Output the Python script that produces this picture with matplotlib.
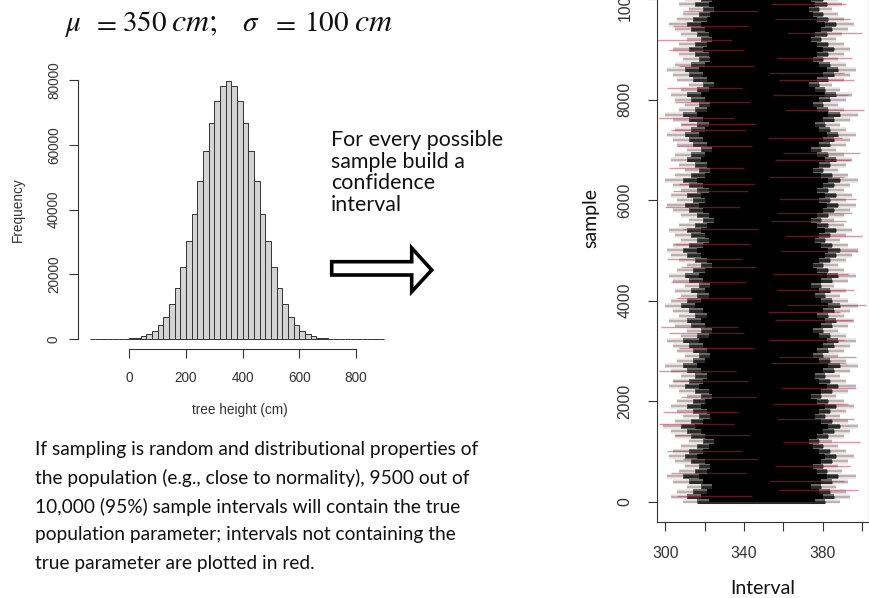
import numpy as np
import matplotlib
matplotlib.use('Agg')
from matplotlib import pyplot as plt
from matplotlib.patches import Polygon

plt.rcParams['mathtext.fontset'] = 'stix'

W, H = 870, 598

def fx(px):
    return px / W

def fy(py):
    return 1 - py / H

# --- histogram of tree heights (bin width 20 cm) ---
bin_left = list(range(-140, 900, 20))
counts = [1, 2, 5, 12, 30, 70, 140,
          250, 480, 880, 1560, 2700, 4400, 7000, 10900, 15900, 22200,
          30200, 38800, 48900, 58100, 66600, 73600, 78100, 79700, 78100, 73600,
          66600, 58100, 48900, 38800, 30200, 22200, 15900, 10900, 7000, 4400,
          2700, 1560, 880, 480, 250, 140, 70, 30, 12, 5, 2, 1, 0, 0, 1]
hist_xticks = [0, 200, 400, 600, 800]
hist_yticks = [0, 20000, 40000, 60000, 80000]

# --- confidence intervals panel (edges of the band read every 100 samples) ---
samples = list(range(0, 10001, 100))
core_lo = [322, 318, 321, 324, 319, 317, 321, 323, 320, 316,
           319, 322, 325, 320, 318, 315, 319, 323, 321, 318,
           320, 324, 322, 317, 319, 321, 318, 316, 320, 323,
           321, 319, 317, 322, 324, 320, 318, 321, 319, 315,
           318, 322, 320, 323, 319, 317, 320, 324, 321, 318,
           316, 319, 322, 320, 318, 321, 325, 322, 319, 317,
           320, 318, 322, 319, 316, 320, 323, 321, 318, 320,
           324, 321, 319, 317, 320, 322, 319, 316, 321, 323,
           320, 318, 322, 325, 321, 319, 317, 320, 323, 322,
           319, 321, 324, 322, 320, 318, 321, 323, 325, 322, 324]
core_hi = [376, 380, 378, 374, 379, 382, 377, 375, 379, 381,
           378, 375, 373, 377, 380, 383, 379, 376, 378, 381,
           377, 374, 379, 382, 378, 376, 380, 383, 378, 375,
           377, 380, 382, 378, 375, 379, 381, 377, 380, 383,
           379, 376, 378, 374, 379, 382, 377, 375, 378, 381,
           383, 379, 376, 378, 381, 377, 374, 377, 380, 382,
           378, 381, 377, 380, 383, 379, 375, 378, 381, 377,
           374, 378, 380, 382, 378, 376, 380, 383, 377, 375,
           378, 381, 376, 373, 377, 380, 382, 378, 375, 377,
           380, 377, 374, 376, 379, 381, 377, 375, 373, 376, 374]
mid_lo = [316, 311, 314, 318, 312, 309, 315, 317, 313, 310,
          312, 316, 319, 313, 311, 308, 313, 317, 314, 311,
          314, 318, 315, 310, 312, 315, 311, 309, 314, 317,
          314, 312, 309, 316, 318, 313, 311, 315, 312, 308,
          311, 316, 313, 317, 312, 310, 314, 318, 315, 311,
          309, 312, 316, 313, 311, 315, 319, 316, 312, 310,
          314, 311, 316, 312, 309, 313, 317, 315, 311, 313,
          318, 314, 312, 310, 313, 316, 312, 309, 315, 317,
          313, 311, 316, 319, 314, 312, 310, 313, 317, 315,
          312, 315, 318, 316, 313, 311, 314, 317, 319, 315, 318]
mid_hi = [381, 386, 384, 379, 385, 388, 382, 380, 385, 387,
          384, 380, 378, 383, 386, 389, 385, 381, 384, 387,
          383, 379, 385, 388, 384, 381, 386, 389, 384, 380,
          383, 386, 388, 384, 380, 385, 387, 383, 386, 389,
          385, 381, 384, 379, 385, 388, 383, 380, 384, 387,
          389, 385, 381, 384, 387, 383, 379, 383, 386, 388,
          384, 387, 383, 386, 389, 385, 380, 384, 387, 383,
          379, 384, 386, 388, 384, 381, 386, 389, 383, 380,
          384, 387, 381, 378, 383, 386, 388, 384, 380, 383,
          386, 383, 379, 382, 385, 387, 383, 380, 378, 382, 380]
fringe_lo = [309, 303, 306, 311, 304, 301, 307, 310, 305, 302,
             304, 308, 312, 305, 303, 299, 305, 309, 306, 303,
             306, 311, 307, 302, 304, 308, 303, 300, 306, 310,
             306, 304, 301, 308, 311, 305, 302, 307, 304, 300,
             303, 308, 305, 310, 304, 302, 306, 311, 307, 303,
             301, 304, 308, 305, 302, 307, 312, 308, 304, 301,
             306, 303, 308, 304, 300, 305, 310, 307, 303, 305,
             311, 306, 304, 301, 305, 308, 304, 300, 307, 310,
             305, 303, 308, 312, 306, 304, 301, 305, 309, 307,
             304, 307, 311, 308, 305, 302, 306, 309, 312, 307, 310]
fringe_hi = [389, 394, 392, 387, 393, 397, 390, 388, 393, 396,
             392, 388, 385, 391, 394, 398, 393, 389, 392, 396,
             391, 387, 393, 397, 392, 389, 394, 398, 392, 388,
             391, 394, 397, 392, 388, 393, 396, 391, 394, 398,
             393, 389, 392, 386, 393, 397, 391, 388, 392, 395,
             398, 393, 389, 392, 395, 391, 386, 391, 394, 397,
             392, 395, 391, 394, 398, 393, 388, 392, 395, 391,
             387, 392, 394, 397, 392, 389, 394, 398, 391, 388,
             392, 395, 389, 385, 391, 394, 397, 392, 388, 391,
             394, 391, 387, 390, 393, 396, 391, 388, 385, 390, 388]

# intervals that miss the true mean (350)
red_y = [120, 233, 410, 560, 700, 850, 1010, 1180, 1320, 1540, 1640, 1790,
         1950, 2090, 2260, 2400, 2601, 2750, 2880, 3050, 3210, 3350, 3476,
         3620, 3780, 3914, 4060, 4210, 4380, 4530, 4660, 4820, 4990, 5130,
         5283, 5420, 5580, 5740, 5870, 6020, 6180, 6330, 6470, 6640, 6790,
         6930, 7080, 7240, 7390, 7520, 7636, 7800, 7950, 8090, 8240, 8400,
         8530, 8680, 8830, 8990, 9188, 9320, 9460, 9610, 9770, 9900]
red_lo = [306, 358, 353, 303, 356, 309, 301, 360, 305, 297, 357, 299,
          355, 308, 359, 304, 297, 354, 358, 307, 353, 302, 298,
          356, 352, 362, 306, 357, 303, 355, 308, 301, 359, 305,
          361, 309, 354, 357, 300, 358, 304, 307, 353, 302, 356,
          360, 306, 352, 303, 308, 297, 361, 305, 355, 301, 358,
          353, 307, 357, 302, 296, 362, 304, 356, 309, 354]
red_hi = [344, 398, 391, 341, 394, 347, 339, 399, 343, 335, 396, 337,
          393, 346, 397, 342, 336, 392, 397, 345, 391, 340, 337,
          395, 389, 402, 344, 396, 341, 393, 346, 339, 398, 343,
          400, 347, 392, 395, 338, 397, 342, 345, 391, 340, 394,
          399, 344, 390, 341, 346, 335, 401, 343, 393, 339, 396,
          391, 345, 395, 340, 334, 400, 342, 394, 347, 392]
ci_xticks = [300, 320, 340, 360, 380, 400]
ci_xlabels = ['300', '', '340', '', '380', '']
ci_yticks = [0, 2000, 4000, 6000, 8000, 10000]

# title pieces and their left edges on the slide (px)
title_parts = [r'$\mu$', r'$=$', r'$350$', r'$cm;$', r'$\sigma$', r'$=$', r'$100$', r'$cm$']
title_x = [65, 92, 122, 171, 242, 271, 304, 354]

arrow_text = ['For every possible', 'sample build a', 'confidence', 'interval']
note_text = ['If sampling is random and distributional properties of',
             'the population (e.g., close to normality), 9500 out of',
             '10,000 (95%) sample intervals will contain the true',
             'population parameter; intervals not containing the',
             'true parameter are plotted in red.']

body_font = ['Lato', 'DejaVu Sans']
r_font = ['Liberation Sans', 'DejaVu Sans']
ink = '#333333'

fig = plt.figure(figsize=(W / 100, H / 100), dpi=100)

# title, all pieces on one baseline
for part, xp in zip(title_parts, title_x):
    size = 23 if 'cm' in part else 21
    fig.text(fx(xp), fy(31), part, fontsize=size, ha='left', va='baseline',
             color='#111111')

# histogram panel (axes laid out in pixels so it matches the slide)
sx = 0.28338
x0 = 129.3
sy = 259.3 / 80000
y0 = 339.3
ax = fig.add_axes([fx(60), fy(360), fx(400) - fx(60), fy(60) - fy(360)])
ax.set_xlim((60 - x0) / sx, (400 - x0) / sx)
ax.set_ylim((y0 - 360) / sy, (y0 - 60) / sy)
ax.bar(bin_left, counts, width=20, align='edge', color='#d3d3d3',
       edgecolor='#333333', linewidth=0.7)
ax.patch.set_visible(False)
ax.spines['top'].set_visible(False)
ax.spines['right'].set_visible(False)
ax.spines['left'].set_position(('data', (78 - x0) / sx))
ax.spines['left'].set_bounds(0, 80000)
ax.spines['bottom'].set_position(('data', (y0 - 349.3) / sy))
ax.spines['bottom'].set_bounds(0, 800)
for s in ['left', 'bottom']:
    ax.spines[s].set_color(ink)
    ax.spines[s].set_linewidth(0.8)
ax.set_xticks(hist_xticks)
ax.set_yticks(hist_yticks)
ax.tick_params(length=6.3, width=0.8, color=ink, labelcolor=ink, labelsize=9.8)
ax.tick_params(axis='x', pad=9)
ax.tick_params(axis='y', pad=6, labelrotation=90)
for t in ax.get_xticklabels() + ax.get_yticklabels():
    t.set_family(r_font)
for t in ax.get_yticklabels():
    t.set_va('center')
fig.text(fx(240), fy(410), 'tree height (cm)', fontsize=9.8, family=r_font,
         ha='center', va='center', color=ink)
fig.text(fx(18), fy(210), 'Frequency', fontsize=9.8, family=r_font,
         ha='center', va='center', rotation=90, color=ink)

# arrow with text
for i, line in enumerate(arrow_text):
    fig.text(fx(331), fy(140 + i * 21.5), line, fontsize=15.4, family=body_font,
             ha='left', va='center', color='#111111')
pts = [(331.7, 261.7), (411.7, 261.7), (411.7, 248), (431.7, 270),
       (411.7, 291.7), (411.7, 275), (331.7, 275)]
fig.patches.append(Polygon([(fx(a), fy(b)) for a, b in pts], closed=True,
                           transform=fig.transFigure, facecolor='white',
                           edgecolor='black', linewidth=2.6, joinstyle='miter'))

# note text
for i, line in enumerate(note_text):
    fig.text(fx(35), fy(450 + i * 28.3), line, fontsize=13.8, family=body_font,
             ha='left', va='center', color='#111111')

# confidence interval panel
ax2 = fig.add_axes([fx(657), fy(521.7), fx(869) - fx(657), (521.7 + 20.9) / H])
ax2.set_xlim(295.8, 403.6)
ax2.set_ylim(-400, 10400)
ax2.fill_betweenx(samples, fringe_lo, fringe_hi, step='mid', color='#eee8e9',
                  lw=0, zorder=0.9)
ax2.hlines(samples, fringe_lo, fringe_hi, color='#bbb1b3', lw=1.7, zorder=1.0)
ax2.fill_betweenx(samples, mid_lo, mid_hi, step='mid', color='#6a6a6a',
                  lw=0, zorder=1.1)
ax2.hlines(samples, mid_lo, mid_hi, color='#2a2a2a', lw=2.2, zorder=1.2)
ax2.fill_betweenx(samples, core_lo, core_hi, step='mid', color='black', lw=0, zorder=1.3)
ax2.hlines(red_y, red_lo, red_hi, color='#b0304f', alpha=0.5, lw=1.0, zorder=2)
ax2.set_xticks(ci_xticks)
ax2.set_xticklabels(ci_xlabels)
ax2.set_yticks(ci_yticks)
ax2.tick_params(length=6.5, width=0.8, color=ink, labelcolor=ink, labelsize=11.3, pad=11)
ax2.tick_params(axis='y', labelrotation=90)
for t in ax2.get_xticklabels() + ax2.get_yticklabels():
    t.set_family(r_font)
for t in ax2.get_yticklabels():
    t.set_va('center')
for s in ax2.spines.values():
    s.set_color(ink)
    s.set_linewidth(0.8)
fig.text(fx(591), fy(218), 'sample', fontsize=14, family=body_font,
         ha='center', va='center', rotation=90, color='#111111')
fig.text(fx(763), fy(588), 'Interval', fontsize=14, family=body_font,
         ha='center', va='center', color='#111111')

fig.savefig('out.png', dpi=100)
